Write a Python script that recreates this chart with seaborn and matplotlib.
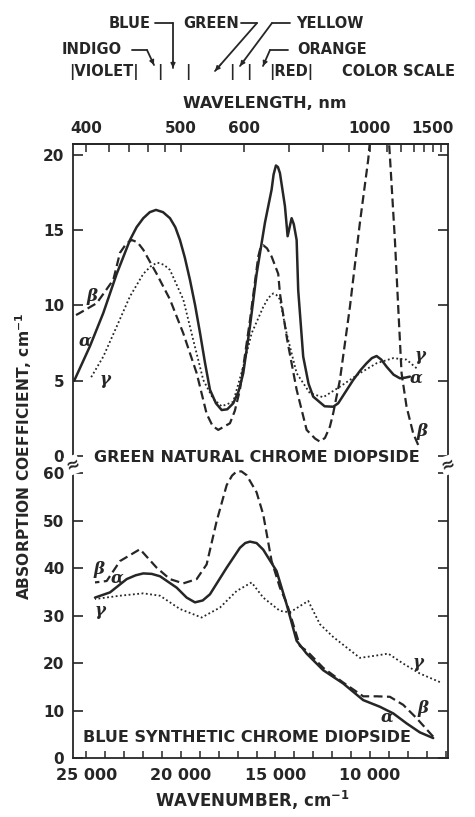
import numpy as np
import pandas as pd
import matplotlib.pyplot as plt
import seaborn as sns
from matplotlib.ticker import MultipleLocator, FuncFormatter
from matplotlib.lines import Line2D

# ---- data (wavenumber cm-1, absorption coefficient cm-1) ----
green_alpha_wn = [25650, 24815, 24111, 23402, 22700, 22350, 21995, 21650, 21323, 20950,
                  20583, 20300, 20054, 19800, 19525, 19250, 18996, 18730, 18467, 18150,
                  17848, 17550, 17234, 16950, 16705, 16351, 15997, 15557, 15204, 15100,
                  14975, 14870, 14764, 14499, 14357, 14145, 14030, 13880, 13796, 13532,
                  13250, 13003, 12400, 11944, 11680, 10886, 10500, 10178, 9900, 9649,
                  9400, 9120, 8750, 8416, 8150, 7887]
green_alpha = [5.0, 7.3, 9.5, 12.1, 14.35, 15.2, 15.8, 16.2, 16.35, 16.2,
               15.8, 15.2, 14.35, 13.2, 11.7, 10.0, 8.2, 6.2, 4.4, 3.5,
               3.05, 3.1, 3.5, 4.3, 5.5, 8.6, 12.1, 15.5, 17.7, 18.7,
               19.3, 19.2, 18.8, 16.6, 14.6, 15.8, 15.4, 14.35, 11.0, 6.6,
               4.8, 3.94, 3.3, 3.27, 3.5, 5.05, 5.7, 6.16, 6.5, 6.64,
               6.4, 5.93, 5.4, 5.16, 5.2, 5.27]

green_beta_wn = [25650, 25381, 24460, 23582, 23228, 22900, 22609, 22300, 21995, 21286,
                 20583, 19879, 19170, 18642, 18330, 18028, 17409, 17150, 16880, 16351,
                 15911, 15780, 15647, 15450, 15204, 14854, 14764, 14378, 13880, 13351,
                 12900, 12648, 12380, 12119, 11944, 11590, 11061, 10532, 10091, 9700,
                 9200, 8944, 8680, 8505, 8327, 8063, 7712, 7448]
green_beta = [9.3, 9.48, 10.15, 11.7, 13.5, 14.1, 14.35, 14.2, 13.7, 12.1,
              10.4, 8.15, 5.5, 2.8, 2.0, 1.73, 2.17, 3.0, 4.4, 9.0,
              13.25, 13.9, 14.0, 13.8, 13.25, 12.1, 10.8, 7.7, 4.4, 1.73,
              1.15, 0.95, 1.2, 1.95, 2.84, 5.05, 9.9, 15.5, 19.7, 25.0,
              25.0, 19.9, 14.35, 9.9, 5.5, 3.27, 1.5, 0.73]

green_gamma_wn = [24815, 24111, 23402, 22700, 21995, 21600, 21255, 20900, 20583, 19879,
                  19350, 18821, 18300, 17848, 17234, 16705, 16262, 15647, 15380, 15118,
                  14950, 14764, 14411, 13880, 13177, 12473, 11590, 10532, 9649, 8769,
                  8063, 7535]
green_gamma = [5.1, 6.6, 8.6, 10.6, 12.1, 12.6, 12.85, 12.7, 12.36, 10.4,
               7.7, 5.05, 3.8, 3.3, 3.6, 5.93, 8.15, 9.9, 10.5, 10.8,
               10.7, 10.4, 8.15, 5.5, 4.17, 3.9, 4.6, 5.5, 6.16, 6.5,
               6.4, 5.83]

blue_alpha_wn = [24550, 23757, 22873, 22400, 21995, 21550, 21111, 20228, 19700, 19260,
                 18850, 18467, 17583, 16880, 16600, 16351, 16000, 15647, 14942, 14411,
                 13880, 13351, 12473, 11415, 10357, 9474, 8769, 8063, 7359, 6654]
blue_alpha = [33.8, 34.9, 37.7, 38.5, 38.9, 38.8, 38.3, 35.9, 33.8, 32.8,
              33.2, 34.5, 40.1, 44.3, 45.3, 45.6, 45.3, 43.9, 39.4, 32.4,
              24.7, 22.0, 18.5, 15.7, 12.2, 10.8, 9.4, 7.3, 5.4, 4.2]

blue_beta_wn = [24550, 23931, 23228, 22170, 21286, 20583, 19879, 19170, 18642, 18113,
                17583, 17300, 17054, 16800, 16526, 16000, 15647, 15204, 14764, 14400,
                13706, 13351, 12473, 11415, 10357, 9649, 8945, 8240, 7535, 6654]
blue_beta = [37.0, 37.3, 41.5, 44.0, 40.1, 37.7, 36.8, 37.7, 40.8, 49.9,
             57.5, 59.5, 60.4, 60.4, 59.6, 56.0, 51.3, 41.5, 35.9, 32.6,
             23.6, 22.6, 19.0, 15.9, 13.0, 13.0, 12.9, 11.2, 8.4, 4.5]

blue_gamma_wn = [24550, 23228, 21995, 21111, 20054, 18907, 17937, 17054, 16262, 15647,
                 14764, 14235, 13267, 12648, 11944, 10532, 9649, 9033, 8240, 7359, 6301]
blue_gamma = [33.5, 34.2, 34.7, 34.2, 31.4, 29.6, 31.7, 35.2, 37.0, 33.8,
              31.0, 30.7, 33.1, 28.2, 25.5, 21.1, 21.6, 22.0, 19.9, 17.8, 16.0]

wl_ticks = [400, 420, 440, 460, 480, 500, 600, 700, 800, 900, 1000, 1100, 1200, 1300, 1400, 1500, 1600]
wl_labeled = [400, 500, 600, 1000, 1500]


def frame(parts):
    rows = []
    for name, xs, ys in parts:
        rows.append(pd.DataFrame({"wn": xs, "k": ys, "ray": name}))
    return pd.concat(rows, ignore_index=True)


green_df = frame([("α", green_alpha_wn, green_alpha),
                  ("β", green_beta_wn, green_beta),
                  ("γ", green_gamma_wn, green_gamma)])
blue_df = frame([("α", blue_alpha_wn, blue_alpha),
                 ("β", blue_beta_wn, blue_beta),
                 ("γ", blue_gamma_wn, blue_gamma)])

sns.set_style("ticks")
plt.rcParams["font.family"] = ["DejaVu Sans"]
plt.rcParams["font.weight"] = "bold"

ink = "#262626"
W, H = 475, 817


def px(x, y):
    return (x / W, 1 - y / H)


fig = plt.figure(figsize=(4.75, 8.17), dpi=100)
ax1 = fig.add_axes([72.7 / W, 1 - 460 / H, (448 - 72.7) / W, (460 - 144) / H])
ax2 = fig.add_axes([72.7 / W, 1 - 758 / H, (448 - 72.7) / W, (758 - 460) / H])

dash_map = {"α": "", "β": (4, 2), "γ": (1, 1.4)}
size_map = {"α": 1.8, "β": 1.6, "γ": 1.3}

for ax, df in [(ax1, green_df), (ax2, blue_df)]:
    sns.lineplot(data=df, x="wn", y="k", style="ray", size="ray",
                 dashes=dash_map, sizes=size_map, color=ink,
                 estimator=None, legend=False, ax=ax)
    ax.set_xlim(25730, 5870)
    ax.set_xlabel("")
    ax.set_ylabel("")
    for s in ax.spines.values():
        s.set_color(ink)
        s.set_linewidth(1.3)
    ax.tick_params(axis="y", direction="in", left=True, right=True, length=7,
                   width=1.2, color=ink, labelsize=11, labelcolor=ink, pad=6)

ax1.set_ylim(-0.27, 20.73)
ax1.yaxis.set_major_locator(MultipleLocator(5))
ax1.spines["bottom"].set_visible(False)
ax1.tick_params(axis="x", which="both", bottom=False, labelbottom=False, top=False)

ax2.set_ylim(0, 62.8)
ax2.yaxis.set_major_locator(MultipleLocator(10))
ax2.spines["top"].set_visible(False)
ax2.xaxis.set_major_locator(MultipleLocator(5000))
ax2.xaxis.set_minor_locator(MultipleLocator(1000))
ax2.xaxis.set_major_formatter(FuncFormatter(lambda v, p: f"{int(v):,}".replace(",", " ")))
ax2.tick_params(axis="x", which="both", direction="in", length=5, width=1.1,
                color=ink, labelsize=11.5, labelcolor=ink, pad=7)


def wn_to_nm(x):
    x = np.asarray(x, dtype=float)
    with np.errstate(divide="ignore"):
        return 1e7 / x


secax = ax1.secondary_xaxis("top", functions=(wn_to_nm, wn_to_nm))
secax.set_xticks(wl_ticks, labels=[str(t) if t in wl_labeled else "" for t in wl_ticks])
secax.tick_params(direction="in", length=6, width=1.1, color=ink,
                  labelsize=11, labelcolor=ink, pad=6)
secax.spines["top"].set_color(ink)
secax.spines["top"].set_linewidth(1.3)

# ray labels
greek = dict(fontsize=12, style="italic", color=ink, ha="center", va="center",
             family=["DejaVu Serif"])
ax1.text(24725, 10.6, "β", **greek)
ax1.text(25080, 7.6, "α", **greek)
ax1.text(24021, 5.1, "γ", **greek)
ax1.text(7358, 6.7, "γ", **greek)
ax1.text(7550, 5.2, "α", **greek)
ax1.text(7268, 1.6, "β", **greek)
ax2.text(24323, 39.7, "β", **greek)
ax2.text(23402, 37.9, "α", **greek)
ax2.text(24286, 31.0, "γ", **greek)
ax2.text(7448, 20.2, "γ", **greek)
ax2.text(7184, 10.5, "β", **greek)
ax2.text(9119, 8.7, "α", **greek)

bold = dict(color=ink, fontweight="bold", ha="center", va="center")
fig.text(*px(257, 458), "GREEN NATURAL CHROME DIOPSIDE", fontsize=11.5, **bold)
fig.text(*px(247, 738), "BLUE SYNTHETIC CHROME DIOPSIDE", fontsize=11.5, **bold)
fig.text(*px(24, 456), "ABSORPTION COEFFICIENT, cm$^{\\mathbf{-1}}$", rotation=90, fontsize=11.2, **bold)
fig.text(*px(252, 800), "WAVENUMBER, cm$^{\\mathbf{-1}}$", fontsize=12, **bold)
fig.text(*px(265, 104), "WAVELENGTH, nm", fontsize=11.5, **bold)

# axis break marks
for xb in (72.7, 448):
    fig.text(*px(xb, 465), "≈", fontsize=12, rotation=20, color=ink, ha="center", va="center",
             bbox=dict(boxstyle="square,pad=0.02", fc="white", ec="none"))

# colour scale
fs = 10.5
fig.text(*px(130, 23), "BLUE", fontsize=fs, **bold)
fig.text(*px(211, 23), "GREEN", fontsize=fs, **bold)
fig.text(*px(330, 23), "YELLOW", fontsize=fs, **bold)
fig.text(*px(92, 50), "INDIGO", fontsize=fs, **bold)
fig.text(*px(332, 50), "ORANGE", fontsize=fs, **bold)
fig.text(*px(104, 72), "|VIOLET|", fontsize=fs, **bold)
for xb in (160, 188, 232, 249):
    fig.text(*px(xb, 72), "|", fontsize=fs, **bold)
fig.text(*px(291, 72), "|RED|", fontsize=fs, **bold)
fig.text(*px(399, 72), "COLOR SCALE", fontsize=fs, **bold)

pointers = [((155, 23), (173, 23), (173, 68)),
            ((241, 23), (257, 23), (215, 71)),
            ((290, 23), (272, 23), (240, 66)),
            ((132, 50), (147, 50), (154, 65)),
            ((288, 50), (270, 50), (263, 66))]
for a, b, c in pointers:
    pa, pb, pc = px(*a), px(*b), px(*c)
    fig.add_artist(Line2D([pa[0], pb[0]], [pa[1], pb[1]], color=ink, lw=1.3,
                          transform=fig.transFigure))
    fig.add_artist(Line2D([pb[0], pc[0]], [pb[1], pc[1]], color=ink, lw=1.3,
                          transform=fig.transFigure))
    plt.annotate("", xy=pc, xytext=(pc[0] + (pb[0] - pc[0]) * 0.15, pc[1] + (pb[1] - pc[1]) * 0.15),
                 xycoords="figure fraction", textcoords="figure fraction",
                 arrowprops=dict(arrowstyle="-|>", color=ink, lw=1.0, mutation_scale=7,
                                 shrinkA=0, shrinkB=0))

fig.savefig("out.png", dpi=100)
